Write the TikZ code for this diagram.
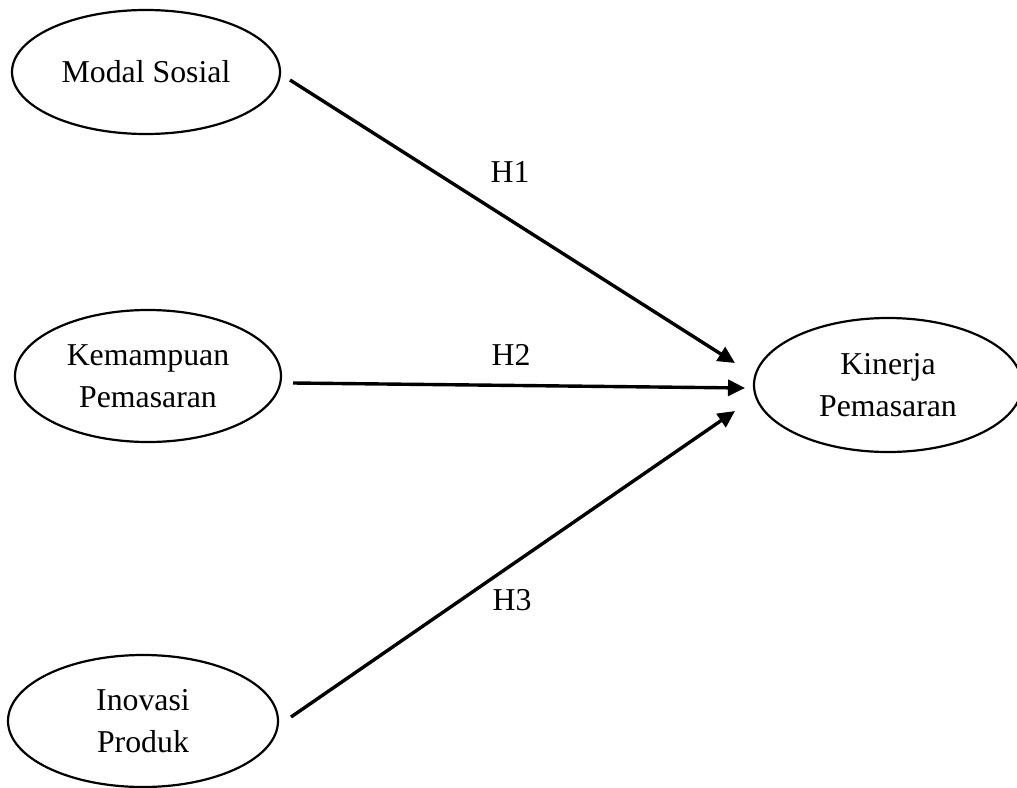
\documentclass[tikz,border=0pt]{standalone}
\usepackage{fontspec}
\setmainfont{Liberation Serif}
\usetikzlibrary{arrows.meta,shapes.geometric}
\begin{document}
\begin{tikzpicture}[x=0.5pt,y=-0.5pt,
  var/.style={ellipse,draw,line width=1.1pt,inner sep=0pt,align=center,
    font=\fontsize{15.9}{20.8}\selectfont},
  hyp/.style={anchor=base,font=\fontsize{15.9}{20.8}\selectfont},
  path/.style={line width=1.7pt,-{Triangle[length=8.5pt,width=8pt]}}]
\useasboundingbox (0,0) rectangle (1017,787);
\node[var,minimum width=134pt,minimum height=62pt] (ms) at (146,72) {Modal Sosial};
\node[var,minimum width=133pt,minimum height=66pt] (km) at (148,376) {Kemampuan\\Pemasaran};
\node[var,minimum width=135pt,minimum height=66pt] (ip) at (143,721) {Inovasi\\Produk};
\node[var,minimum width=134pt,minimum height=67pt] (kp) at (888,385) {Kinerja\\Pemasaran};
\coordinate (s1) at (290,80);
\coordinate (e1) at (735,363);
\coordinate (s2) at (293,383);
\coordinate (e2) at (745,388);
\coordinate (s3) at (291,717);
\coordinate (e3) at (735,411);
\draw[path] (s1) -- (e1);
\draw[path] (s2) -- (e2);
\draw[path] (s3) -- (e3);
\node[hyp] (h1) at (510,182) {H1};
\node[hyp] (h2) at (511,365) {H2};
\node[hyp] (h3) at (512,610) {H3};
\end{tikzpicture}
\end{document}
